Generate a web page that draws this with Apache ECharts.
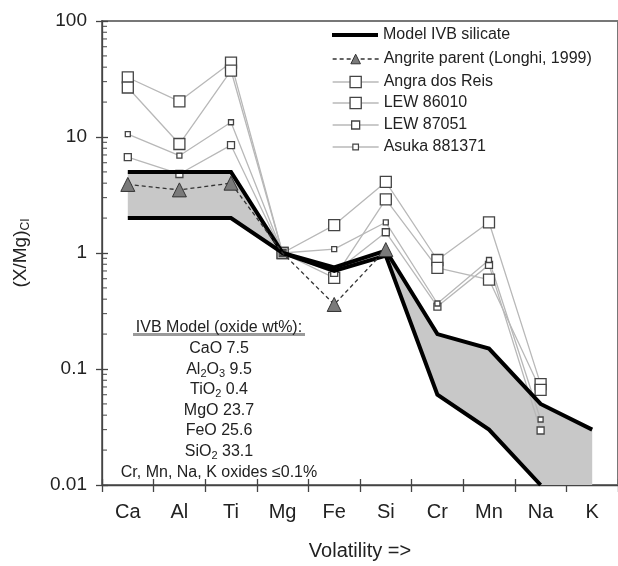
<!DOCTYPE html>
<html><head><meta charset="utf-8">
<script src="https://cdn.jsdelivr.net/npm/echarts@6.0.0/dist/echarts.min.js"></script>
<style>html,body{margin:0;padding:0;background:#fff}#c{width:618px;height:566px}</style>
</head><body><div id="c"></div>
<script>
const categories = ['Ca','Al','Ti','Mg','Fe','Si','Cr','Mn','Na','K'];
const yTickLabels = ['0.01','0.1','1','10','100'];
const modelHigh = [5,5,5,1,0.75,1.05,0.2,0.15,0.05,0.03];
const modelLow = [2,2,2,1,0.7,0.95,0.06,0.03,0.01];
const angriteParent = [3.9,3.5,4.0,1,0.36,1.07];
const angraDosReis = [32.6,20.3,43.8,1,1.74,4.1,0.87,1.84,0.074];
const lew86010 = [26.7,8.7,37.4,1,0.61,2.9,0.745,0.59,0.066];
const lew87051 = [6.7,4.8,8.5,1,0.675,1.51,0.345,0.79,0.0295];
const asuka881371 = [10.6,6.9,13.4,1,1.08,1.84,0.367,0.87,0.0367];
const minorMantissas = [2,3,4,5,6,7,8,9];
const decades = [0.01,0.1,1,10];
const oxideBoxLines = [
  '{n|IVB Model (oxide wt%):}',
  '{n|CaO 7.5}',
  '{n|Al}{s|2}{n|O}{s|3}{n| 9.5}',
  '{n|TiO}{s|2}{n| 0.4}',
  '{n|MgO 23.7}',
  '{n|FeO 25.6}',
  '{n|SiO}{s|2}{n| 33.1}',
  '{n|Cr, Mn, Na, K oxides \u22640.1%}'
];

const FONT = "'Liberation Sans', Arial, sans-serif";
const yMin = 0.01, yMax = 100;
const minorTickValues = [];
decades.forEach(d => minorMantissas.forEach(m => minorTickValues.push(+(m * d).toPrecision(3))));

const chart = echarts.init(document.getElementById('c'), null, {renderer: 'canvas'});

function legendFor(item, rowCenter, h, extra) {
  return Object.assign({
    data: [item], orient: 'vertical', left: 332, top: rowCenter - 8, padding: 0,
    itemWidth: 46, itemHeight: h, itemGap: 0, selectedMode: false,
    textStyle: {fontSize: 16, lineHeight: 16, color: '#222', fontFamily: FONT}
  }, extra || {});
}

const sampleStyle = (name, data, size) => ({
  type: 'line', name, data, symbol: 'rect', symbolSize: size, showAllSymbol: true,
  lineStyle: {color: '#b8b8b8', width: 1.3},
  itemStyle: {color: '#fff', borderColor: '#444', borderWidth: 1.3},
  z: 2, silent: true, animation: false
});

const boxGraphics = [{
  type: 'rect', shape: {x: 133, y: 333, width: 172, height: 3}, style: {fill: '#9a9a9a'}, z: 10
}];
oxideBoxLines.forEach((t, k) => {
  boxGraphics.push({
    type: 'text', x: 219, y: 328 + 20.6 * k, z: 11,
    style: {
      text: t, align: 'center', verticalAlign: 'middle', textAlign: 'center', textVerticalAlign: 'middle',
      rich: {
        n: {fontSize: 16, lineHeight: 20, fill: '#222', color: '#222', fontFamily: FONT},
        s: {fontSize: 11, lineHeight: 11, verticalAlign: 'bottom', fill: '#222', color: '#222', fontFamily: FONT}
      }
    }
  });
});

const option = {
  animation: false,
  backgroundColor: '#fff',
  grid: {left: 102, right: -2, top: 21, bottom: 77, show: true, borderColor: '#777', borderWidth: 2, backgroundColor: 'transparent'},
  legend: [
    legendFor({name: 'Model IVB silicate', icon: 'rect', itemStyle: {color: '#000', borderWidth: 0}}, 35, 4),
    legendFor('Angrite parent (Longhi, 1999)', 59, 12, {lineStyle: {width: 1.3}, itemStyle: {borderWidth: 1}}),
    legendFor('Angra dos Reis', 82, 14, {itemStyle: {borderWidth: 1.3}, lineStyle: {width: 1.3}}),
    legendFor('LEW 86010', 103, 14, {itemStyle: {borderWidth: 1.3}, lineStyle: {width: 1.3}}),
    legendFor('LEW 87051', 125, 10, {itemStyle: {borderWidth: 1.3}, lineStyle: {width: 1.3}}),
    legendFor('Asuka 881371', 147, 7, {itemStyle: {borderWidth: 1.2}, lineStyle: {width: 1.3}})
  ],
  xAxis: [{
    type: 'category', data: categories, position: 'bottom',
    axisLine: {lineStyle: {color: '#444', width: 1.3}},
    axisTick: {show: true, inside: false, length: 7, lineStyle: {color: '#444', width: 1.3}},
    axisLabel: {interval: 0, fontSize: 20, color: '#222', fontFamily: FONT, margin: 17},
    name: 'Volatility =>', nameLocation: 'middle', nameGap: 56,
    nameTextStyle: {fontSize: 20, color: '#222', fontFamily: FONT},
    splitLine: {show: false}
  }, {
    type: 'category', data: categories, position: 'bottom',
    axisLine: {show: false},
    axisTick: {show: true, inside: true, length: 6, lineStyle: {color: '#444', width: 1.3}},
    axisLabel: {show: false}, splitLine: {show: false}
  }],
  yAxis: [{
    type: 'log', logBase: 10, min: yMin, max: yMax, position: 'left',
    axisLine: {show: true, lineStyle: {color: '#444', width: 1.3}},
    axisTick: {show: true, inside: false, length: 6, lineStyle: {color: '#444', width: 1.3}},
    axisLabel: {
      fontSize: 19, color: '#222', fontFamily: FONT, margin: 15,
      formatter: v => yTickLabels.find(s => Math.abs(parseFloat(s) - v) < 1e-9 * Math.max(1, v)) || ''
    },
    splitLine: {show: false},
    name: '{a|(X/Mg)}{b|CI}', nameLocation: 'middle', nameGap: 70, nameRotate: 90,
    nameTextStyle: {
      color: '#222', fontFamily: FONT,
      rich: {
        a: {fontSize: 19, lineHeight: 22, color: '#222', fontFamily: FONT},
        b: {fontSize: 12, lineHeight: 12, verticalAlign: 'bottom', color: '#222', fontFamily: FONT}
      }
    }
  }, {
    type: 'log', logBase: 10, min: yMin, max: yMax, position: 'left',
    axisLine: {show: false},
    axisTick: {show: true, inside: true, length: 6, lineStyle: {color: '#444', width: 1.3}},
    axisLabel: {show: false}, splitLine: {show: false}
  }],
  graphic: boxGraphics,
  series: [
    {
      type: 'custom', name: 'modelFill', silent: true, z: 1, data: [[0, 1]],
      renderItem: (params, api) => {
        const pts = [];
        modelHigh.forEach((v, i) => pts.push(api.coord([i, v])));
        const lowFull = modelLow.slice();
        while (lowFull.length < categories.length) lowFull.push(yMin);
        for (let i = lowFull.length - 1; i >= 0; i--) pts.push(api.coord([i, lowFull[i]]));
        return {type: 'polygon', shape: {points: pts}, style: {fill: '#c8c8c8'}};
      }
    },
    sampleStyle('Angra dos Reis', angraDosReis, 11),
    sampleStyle('LEW 86010', lew86010, 11),
    sampleStyle('LEW 87051', lew87051, 7),
    sampleStyle('Asuka 881371', asuka881371, 5),
    {
      type: 'line', name: 'Model IVB silicate', data: modelHigh, symbol: 'none',
      lineStyle: {color: '#000', width: 4, join: 'miter'}, itemStyle: {color: '#000'}, z: 3, silent: true
    },
    {
      type: 'line', name: 'Model IVB silicate', data: modelLow, symbol: 'none',
      lineStyle: {color: '#000', width: 4, join: 'miter'}, itemStyle: {color: '#000'}, z: 3, silent: true
    },
    {
      type: 'line', name: 'Angrite parent (Longhi, 1999)',
      data: angriteParent.map((v, i) => categories[i] === 'Mg' ? {value: v, symbol: 'none'} : v),
      symbol: 'triangle', symbolSize: 14, showAllSymbol: true,
      lineStyle: {color: '#333', width: 1.3, type: [4, 3]},
      itemStyle: {color: '#7a7a7a', borderColor: '#333', borderWidth: 1},
      z: 4, silent: true
    },
    {
      type: 'custom', name: 'minorTicks', silent: true, z: 5,
      data: minorTickValues.map(v => [0, v]),
      renderItem: (params, api) => {
        const p = api.coord([0, api.value(1)]);
        const x0 = params.coordSys.x;
        return {type: 'line', shape: {x1: x0, y1: p[1], x2: x0 + 5, y2: p[1]}, style: {stroke: '#444', lineWidth: 1}};
      }
    }
  ]
};
chart.setOption(option);
</script>
</body></html>
